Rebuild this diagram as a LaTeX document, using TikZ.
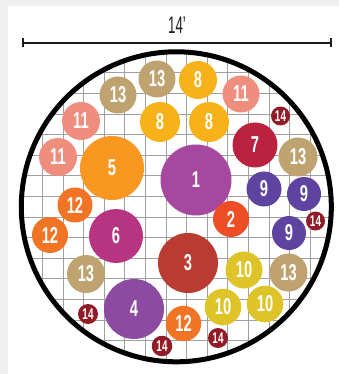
\documentclass[tikz,border=0pt]{standalone}
\usepackage{fontspec}
\setmainfont{Liberation Sans}
\usetikzlibrary{arrows.meta}
\definecolor{bgGrey}{RGB}{240,240,240}
\definecolor{gridGrey}{RGB}{160,160,160}
\definecolor{inkDark}{RGB}{30,30,30}
\definecolor{cTan}{RGB}{190,162,112}
\definecolor{cAmber}{RGB}{247,178,26}
\definecolor{cSalmon}{RGB}{240,142,126}
\definecolor{cDark}{RGB}{145,27,38}
\definecolor{cCrimson}{RGB}{186,34,64}
\definecolor{cOrange}{RGB}{248,152,32}
\definecolor{cMagenta}{RGB}{166,72,160}
\definecolor{cViolet}{RGB}{94,68,160}
\definecolor{cOrangeB}{RGB}{240,116,36}
\definecolor{cRed}{RGB}{238,78,38}
\definecolor{cBerry}{RGB}{182,52,130}
\definecolor{cBrick}{RGB}{186,60,48}
\definecolor{cYellow}{RGB}{222,196,40}
\definecolor{cPurple}{RGB}{140,74,160}
\newcommand{\bignum}[1]{\scalebox{0.64}[1]{\fontsize{23}{23}\selectfont\bfseries #1}}
\newcommand{\smallnum}[1]{\scalebox{0.64}[1]{\fontsize{15.5}{15.5}\selectfont\bfseries #1}}
\tikzset{
  plant/.style={circle, inner sep=0pt, outer sep=0pt, text=white},
  gridline/.style={draw=gridGrey, line width=0.9pt},
}
\begin{document}
\begin{tikzpicture}[x=1pt, y=-1pt]
\useasboundingbox (0,0) rectangle (339,374);
\fill[bgGrey] (0,0) rectangle (339,374);
\fill[white] (8,6) rectangle (339,374);
% grid clipped to the bed
\begin{scope}
  \clip (176.3,206.8) circle (155);
  \foreach \k in {-7,...,8} {
    \draw[gridline] ({176.3+(\k-0.5)*20.6},40) -- ({176.3+(\k-0.5)*20.6},370);
    \draw[gridline] (15,{206.8+(\k-0.5)*20.6}) -- (340,{206.8+(\k-0.5)*20.6});
  }
\end{scope}
% plants
\node[plant, fill=cTan, minimum size=37pt] (p13a) at (157,79) {\bignum{13}};
\node[plant, fill=cAmber, minimum size=38pt] (p8a) at (198,80) {\bignum{8}};
\node[plant, fill=cSalmon, minimum size=37pt] (p11a) at (241,94) {\bignum{11}};
\node[plant, fill=cTan, minimum size=37pt] (p13b) at (118,95) {\bignum{13}};
\node[plant, fill=cSalmon, minimum size=38pt] (p11b) at (81,121) {\bignum{11}};
\node[plant, fill=cAmber, minimum size=40pt] (p8b) at (160,122) {\bignum{8}};
\node[plant, fill=cAmber, minimum size=40pt] (p8c) at (209,122) {\bignum{8}};
\node[plant, fill=cDark, minimum size=19pt] (p14a) at (280.5,116) {\smallnum{14}};
\node[plant, fill=cCrimson, minimum size=45pt] (p7) at (255,145) {\bignum{7}};
\node[plant, fill=cTan, minimum size=39pt] (p13c) at (298,157) {\bignum{13}};
\node[plant, fill=cSalmon, minimum size=38pt] (p11c) at (58,157) {\bignum{11}};
\node[plant, fill=cOrange, minimum size=64pt] (p5) at (112,168) {\bignum{5}};
\node[plant, fill=cMagenta, minimum size=71pt] (p1) at (196,180) {\bignum{1}};
\node[plant, fill=cViolet, minimum size=35pt] (p9a) at (264,189) {\bignum{9}};
\node[plant, fill=cViolet, minimum size=34pt] (p9b) at (304,194) {\bignum{9}};
\node[plant, fill=cOrangeB, minimum size=35pt] (p12a) at (75,205) {\bignum{12}};
\node[plant, fill=cRed, minimum size=36pt] (p2) at (231,219) {\bignum{2}};
\node[plant, fill=cDark, minimum size=19pt] (p14b) at (315.5,221) {\smallnum{14}};
\node[plant, fill=cViolet, minimum size=34pt] (p9c) at (289,233) {\bignum{9}};
\node[plant, fill=cOrangeB, minimum size=36pt] (p12b) at (50,235) {\bignum{12}};
\node[plant, fill=cBerry, minimum size=54pt] (p6) at (116,236) {\bignum{6}};
\node[plant, fill=cBrick, minimum size=60pt] (p3) at (188,263) {\bignum{3}};
\node[plant, fill=cYellow, minimum size=37pt] (p10a) at (244,270) {\bignum{10}};
\node[plant, fill=cTan, minimum size=38pt] (p13d) at (288.5,272.5) {\bignum{13}};
\node[plant, fill=cTan, minimum size=38pt] (p13e) at (86,274) {\bignum{13}};
\node[plant, fill=cYellow, minimum size=36.6pt] (p10b) at (223,307) {\bignum{10}};
\node[plant, fill=cYellow, minimum size=36.6pt] (p10c) at (265,304) {\bignum{10}};
\node[plant, fill=cPurple, minimum size=60pt] (p4) at (134,309) {\bignum{4}};
\node[plant, fill=cDark, minimum size=20pt] (p14c) at (88,314) {\smallnum{14}};
\node[plant, fill=cOrangeB, minimum size=35.4pt] (p12c) at (183.5,323.5) {\bignum{12}};
\node[plant, fill=cDark, minimum size=20.6pt] (p14d) at (162,346) {\smallnum{14}};
\node[plant, fill=cDark, minimum size=20pt] (p14e) at (218,338) {\smallnum{14}};
% bed outline
\node[circle, draw=black, line width=5pt, minimum size=310pt, inner sep=0pt] (bed) at (176.3,206.8) {};
% dimension line
\coordinate (dimL) at (22,43);
\coordinate (dimR) at (332,43);
\draw[inkDark, line width=2pt, {Bar[width=9pt,line width=1.6pt]}-{Bar[width=9pt,line width=1.6pt]}] (dimL) -- (dimR);
\node[text=inkDark, inner sep=0pt] (dimlabel) at (177,25.5) {\scalebox{0.55}[1]{\fontsize{24}{24}\selectfont 14'}};
\end{tikzpicture}
\end{document}
